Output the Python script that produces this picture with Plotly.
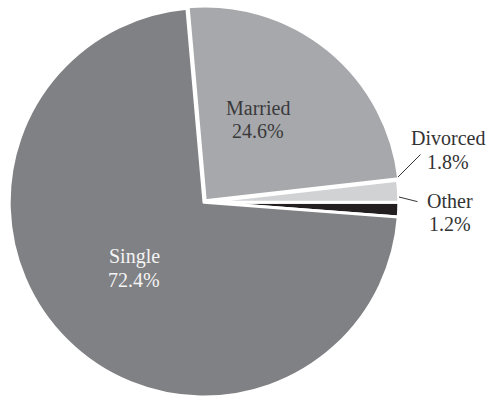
import plotly.graph_objects as go

labels = ["Other", "Divorced", "Married", "Single"]
values = [1.2, 1.8, 24.6, 72.4]
colors = ["#231f20", "#d1d2d4", "#a7a8ab", "#808184"]
pulls = [0, 0, 0.01, 0]

W, H = 487, 399

fig = go.Figure(go.Pie(
    labels=labels, values=values, sort=False,
    direction="counterclockwise", rotation=90,
    marker=dict(colors=colors, line=dict(color="white", width=3)),
    pull=pulls, textinfo="none", hoverinfo="label+percent",
    domain=dict(x=[7/W, 401/W], y=[0, 393.5/H]),
    showlegend=False,
))

font = "Liberation Serif, Times New Roman, serif"
fs = 20

def px(x, y):
    return x / W, 1 - y / H

# label placement (pixel centres of name line and percent line)
label_pos = {
    "Single": ((134, 256), (134, 280), "#f4f4f4"),
    "Married": ((258, 108), (258, 131), "#3a3a3c"),
    "Divorced": ((448, 138), (448, 162), "#333333"),
    "Other": ((450, 201), (450, 224), "#333333"),
}
leaders = {
    "Divorced": ((422, 153), (398, 177)),
    "Other": ((419, 202), (399, 197)),
}

anns = []
for name, (p1, p2, col) in label_pos.items():
    v = values[labels.index(name)]
    for txt, xy in [(name, p1), (f"{v:.1f}%", p2)]:
        x, y = px(*xy)
        anns.append(dict(x=x, y=y, xref="paper", yref="paper", text=txt,
                         xanchor="center", yanchor="middle",
                         showarrow=False, font=dict(family=font, size=fs, color=col)))
for name, (tail, head) in leaders.items():
    hx, hy = px(*head)
    anns.append(dict(x=hx, y=hy, xref="paper", yref="paper", text="",
                     showarrow=True, arrowhead=0, arrowwidth=1, arrowcolor="#333333",
                     axref="pixel", ayref="pixel",
                     ax=tail[0] - head[0], ay=tail[1] - head[1]))

fig.update_layout(width=W, height=H, margin=dict(l=0, r=0, t=0, b=0),
                  paper_bgcolor="white", plot_bgcolor="white", annotations=anns)
fig.write_html("out.html")
